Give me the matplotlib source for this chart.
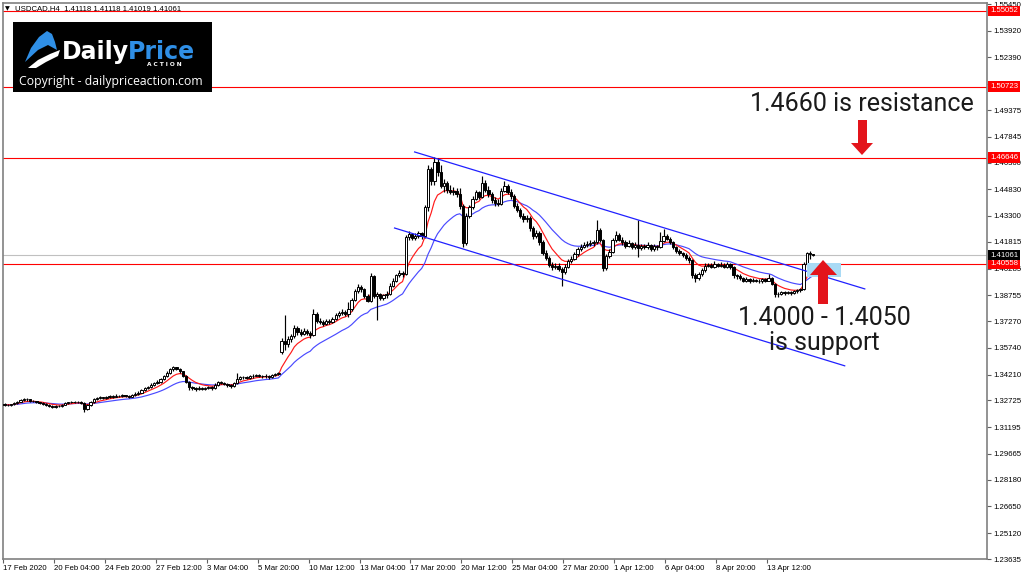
import numpy as np
import matplotlib
matplotlib.use("Agg")
import matplotlib.pyplot as plt
import matplotlib.transforms as mtransforms
from matplotlib.patches import Polygon, Rectangle

title = "USDCAD,H4  1.41118 1.41118 1.41019 1.41061"

# H4 candles, 17 Feb 2020 12:00 .. 15 Apr 2020 20:00 (one line per day)
opens = [
    1.3252, 1.3248, 1.3245,
    1.3250, 1.3258, 1.3266, 1.3275, 1.3282, 1.3278,
    1.3270, 1.3268, 1.3262, 1.3258, 1.3252, 1.3245,
    1.3242, 1.3236, 1.3240, 1.3238, 1.3248, 1.3258,
    1.3262, 1.3264, 1.3262, 1.3266, 1.3258, 1.3222,
    1.3245, 1.3262, 1.3278, 1.3285, 1.3290, 1.3286,
    1.3292, 1.3298, 1.3295, 1.3300, 1.3296, 1.3302,
    1.3298, 1.3295, 1.3305, 1.3312, 1.3318, 1.3330,
    1.3345, 1.3350, 1.3362, 1.3372, 1.3380, 1.3395,
    1.3410, 1.3432, 1.3450, 1.3462, 1.3455, 1.3440,
    1.3415, 1.3380, 1.3350, 1.3342, 1.3338, 1.3346,
    1.3340, 1.3345, 1.3350, 1.3344, 1.3362, 1.3378,
    1.3372, 1.3368, 1.3360, 1.3355, 1.3372, 1.3395,
    1.3405, 1.3408, 1.3402, 1.3410, 1.3415, 1.3418,
    1.3412, 1.3410, 1.3415, 1.3408, 1.3418, 1.3425,
    1.3548, 1.3615, 1.3598, 1.3625, 1.3640, 1.3690,
    1.3665, 1.3655, 1.3670, 1.3660, 1.3648, 1.3770,
    1.3730, 1.3725, 1.3712, 1.3730, 1.3722, 1.3740,
    1.3760, 1.3775, 1.3782, 1.3770, 1.3795, 1.3850,
    1.3900, 1.3925, 1.3910, 1.3870, 1.3845, 1.3985,
    1.3870, 1.3880, 1.3862, 1.3875, 1.3885, 1.3930,
    1.3960, 1.3990, 1.4005, 1.3995, 1.4210, 1.4225,
    1.4205, 1.4215, 1.4230, 1.4218, 1.4380, 1.4600,
    1.4530, 1.4640, 1.4580, 1.4500, 1.4520, 1.4480,
    1.4470, 1.4475, 1.4455, 1.4390, 1.4175, 1.4330,
    1.4380, 1.4430, 1.4465, 1.4440, 1.4520, 1.4480,
    1.4455, 1.4420, 1.4405, 1.4400, 1.4475, 1.4500,
    1.4470, 1.4445, 1.4390, 1.4365, 1.4330, 1.4310,
    1.4320, 1.4260, 1.4215, 1.4235, 1.4180, 1.4120,
    1.4090, 1.4050, 1.4035, 1.4045, 1.4025, 1.4010,
    1.4040, 1.4070, 1.4085, 1.4110, 1.4140, 1.4155,
    1.4165, 1.4170, 1.4175, 1.4180, 1.4250, 1.4190,
    1.4030, 1.4100, 1.4125, 1.4190, 1.4220, 1.4195,
    1.4180, 1.4160, 1.4175, 1.4150, 1.4165, 1.4145,
    1.4160, 1.4150, 1.4165, 1.4140, 1.4158, 1.4150,
    1.4185, 1.4215, 1.4200, 1.4180, 1.4150, 1.4130,
    1.4115, 1.4105, 1.4090, 1.4075, 1.3990, 1.3975,
    1.3995, 1.4020, 1.4045, 1.4050, 1.4040, 1.4055,
    1.4045, 1.4050, 1.4040, 1.4055, 1.4035, 1.3990,
    1.3985, 1.3975, 1.3960, 1.3968, 1.3958, 1.3965,
    1.3960, 1.3955, 1.3968, 1.3960, 1.3975, 1.3940,
    1.3880, 1.3885, 1.3892, 1.3888, 1.3895, 1.3890,
    1.3898, 1.3905, 1.3910, 1.4055, 1.4115, 1.41118,
]
highs = [
    1.3256, 1.3252, 1.3254,
    1.3262, 1.3270, 1.3280, 1.3288, 1.3286, 1.3281,
    1.3276, 1.3272, 1.3266, 1.3262, 1.3256, 1.3250,
    1.3246, 1.3245, 1.3244, 1.3252, 1.3262, 1.3266,
    1.3269, 1.3268, 1.3271, 1.3270, 1.3262, 1.3250,
    1.3268, 1.3284, 1.3292, 1.3296, 1.3294, 1.3298,
    1.3304, 1.3302, 1.3307, 1.3304, 1.3309, 1.3306,
    1.3302, 1.3312, 1.3319, 1.3325, 1.3338, 1.3352,
    1.3358, 1.3370, 1.3380, 1.3388, 1.3402, 1.3418,
    1.3440, 1.3458, 1.3468, 1.3466, 1.3460, 1.3444,
    1.3420, 1.3386, 1.3356, 1.3350, 1.3355, 1.3352,
    1.3352, 1.3358, 1.3354, 1.3370, 1.3385, 1.3382,
    1.3376, 1.3372, 1.3364, 1.3378, 1.3430, 1.3412,
    1.3415, 1.3413, 1.3418, 1.3425, 1.3426, 1.3423,
    1.3418, 1.3424, 1.3420, 1.3426, 1.3432, 1.3438,
    1.3630, 1.3762, 1.3640, 1.3652, 1.3705, 1.3702,
    1.3680, 1.3688, 1.3680, 1.3672, 1.3795, 1.3782,
    1.3745, 1.3732, 1.3742, 1.3738, 1.3752, 1.3772,
    1.3788, 1.3795, 1.3790, 1.3835, 1.3862, 1.3912,
    1.3940, 1.3935, 1.3918, 1.3882, 1.4005, 1.3992,
    1.3895, 1.3890, 1.3885, 1.3898, 1.3945, 1.3972,
    1.4000, 1.4018, 1.4012, 1.4222, 1.4245, 1.4235,
    1.4230, 1.4242, 1.4238, 1.4395, 1.4625, 1.4612,
    1.4667, 1.4660, 1.4625, 1.4540, 1.4530, 1.4505,
    1.4498, 1.4490, 1.4490, 1.4400, 1.4345, 1.4395,
    1.4445, 1.4480, 1.4475, 1.4560, 1.4535, 1.4500,
    1.4470, 1.4440, 1.4425, 1.4490, 1.4530, 1.4515,
    1.4485, 1.4455, 1.4405, 1.4378, 1.4345, 1.4338,
    1.4330, 1.4275, 1.4250, 1.4245, 1.4190, 1.4135,
    1.4100, 1.4068, 1.4060, 1.4058, 1.4040, 1.4055,
    1.4082, 1.4098, 1.4125, 1.4152, 1.4168, 1.4180,
    1.4185, 1.4190, 1.4195, 1.4305, 1.4262, 1.4198,
    1.4110, 1.4138, 1.4205, 1.4245, 1.4230, 1.4208,
    1.4190, 1.4192, 1.4182, 1.4178, 1.4305, 1.4172,
    1.4168, 1.4178, 1.4172, 1.4170, 1.4165, 1.4240,
    1.4255, 1.4225, 1.4210, 1.4188, 1.4160, 1.4140,
    1.4125, 1.4115, 1.4098, 1.4082, 1.4005, 1.4008,
    1.4032, 1.4058, 1.4062, 1.4058, 1.4070, 1.4062,
    1.4065, 1.4058, 1.4068, 1.4062, 1.4042, 1.4000,
    1.3995, 1.3982, 1.3978, 1.3975, 1.3972, 1.3970,
    1.3968, 1.3975, 1.3972, 1.4000, 1.3982, 1.3948,
    1.3895, 1.3900, 1.3898, 1.3902, 1.3900, 1.3905,
    1.3912, 1.3918, 1.4065, 1.4125, 1.4128, 1.41118,
]
lows = [
    1.3243, 1.3240, 1.3242,
    1.3247, 1.3254, 1.3262, 1.3270, 1.3272, 1.3265,
    1.3263, 1.3258, 1.3253, 1.3247, 1.3240, 1.3236,
    1.3230, 1.3232, 1.3233, 1.3235, 1.3244, 1.3254,
    1.3258, 1.3257, 1.3259, 1.3252, 1.3208, 1.3218,
    1.3240, 1.3258, 1.3274, 1.3280, 1.3280, 1.3282,
    1.3288, 1.3289, 1.3291, 1.3290, 1.3292, 1.3292,
    1.3288, 1.3291, 1.3300, 1.3306, 1.3313, 1.3325,
    1.3338, 1.3344, 1.3356, 1.3366, 1.3375, 1.3390,
    1.3405, 1.3426, 1.3442, 1.3446, 1.3432, 1.3408,
    1.3372, 1.3330, 1.3332, 1.3325, 1.3332, 1.3334,
    1.3335, 1.3340, 1.3330, 1.3340, 1.3356, 1.3364,
    1.3360, 1.3352, 1.3342, 1.3350, 1.3365, 1.3388,
    1.3398, 1.3395, 1.3398, 1.3404, 1.3410, 1.3405,
    1.3400, 1.3404, 1.3398, 1.3403, 1.3412, 1.3418,
    1.3540, 1.3560, 1.3580, 1.3605, 1.3630, 1.3650,
    1.3640, 1.3645, 1.3648, 1.3630, 1.3640, 1.3715,
    1.3712, 1.3700, 1.3706, 1.3710, 1.3718, 1.3735,
    1.3752, 1.3765, 1.3755, 1.3748, 1.3788, 1.3842,
    1.3890, 1.3895, 1.3860, 1.3835, 1.3838, 1.3860,
    1.3735, 1.3850, 1.3848, 1.3862, 1.3878, 1.3920,
    1.3950, 1.3978, 1.3980, 1.3990, 1.4195, 1.4190,
    1.4195, 1.4205, 1.4200, 1.4205, 1.4360, 1.4510,
    1.4505, 1.4560, 1.4490, 1.4470, 1.4460, 1.4455,
    1.4450, 1.4440, 1.4370, 1.4150, 1.4165, 1.4320,
    1.4370, 1.4420, 1.4425, 1.4435, 1.4470, 1.4440,
    1.4405, 1.4390, 1.4385, 1.4395, 1.4465, 1.4455,
    1.4430, 1.4375, 1.4350, 1.4318, 1.4295, 1.4298,
    1.4245, 1.4200, 1.4205, 1.4165, 1.4105, 1.4075,
    1.4035, 1.4022, 1.4025, 1.4012, 1.3930, 1.3995,
    1.4030, 1.4058, 1.4075, 1.4100, 1.4130, 1.4145,
    1.4150, 1.4158, 1.4160, 1.4172, 1.4180, 1.4015,
    1.4022, 1.4090, 1.4118, 1.4180, 1.4185, 1.4165,
    1.4148, 1.4150, 1.4138, 1.4140, 1.4095, 1.4135,
    1.4138, 1.4142, 1.4128, 1.4132, 1.4135, 1.4145,
    1.4178, 1.4190, 1.4170, 1.4140, 1.4120, 1.4105,
    1.4095, 1.4080, 1.4062, 1.3975, 1.3950, 1.3962,
    1.3985, 1.4010, 1.4035, 1.4030, 1.4032, 1.4035,
    1.4038, 1.4030, 1.4032, 1.4025, 1.3975, 1.3968,
    1.3962, 1.3950, 1.3952, 1.3948, 1.3950, 1.3952,
    1.3945, 1.3948, 1.3950, 1.3955, 1.3932, 1.3865,
    1.3868, 1.3875, 1.3875, 1.3880, 1.3878, 1.3882,
    1.3890, 1.3895, 1.3905, 1.4040, 1.4085, 1.41019,
]
closes = [
    1.3248, 1.3245, 1.3250,
    1.3258, 1.3266, 1.3275, 1.3282, 1.3278, 1.3270,
    1.3268, 1.3262, 1.3258, 1.3252, 1.3245, 1.3242,
    1.3236, 1.3240, 1.3238, 1.3248, 1.3258, 1.3262,
    1.3264, 1.3262, 1.3266, 1.3258, 1.3222, 1.3245,
    1.3262, 1.3278, 1.3285, 1.3290, 1.3286, 1.3292,
    1.3298, 1.3295, 1.3300, 1.3296, 1.3302, 1.3298,
    1.3295, 1.3305, 1.3312, 1.3318, 1.3330, 1.3345,
    1.3350, 1.3362, 1.3372, 1.3380, 1.3395, 1.3410,
    1.3432, 1.3450, 1.3462, 1.3455, 1.3440, 1.3415,
    1.3380, 1.3350, 1.3342, 1.3338, 1.3346, 1.3340,
    1.3345, 1.3350, 1.3344, 1.3362, 1.3378, 1.3372,
    1.3368, 1.3360, 1.3355, 1.3372, 1.3395, 1.3405,
    1.3408, 1.3402, 1.3410, 1.3415, 1.3418, 1.3412,
    1.3410, 1.3415, 1.3408, 1.3418, 1.3425, 1.3430,
    1.3615, 1.3598, 1.3625, 1.3640, 1.3690, 1.3665,
    1.3655, 1.3670, 1.3660, 1.3648, 1.3770, 1.3730,
    1.3725, 1.3712, 1.3730, 1.3722, 1.3740, 1.3760,
    1.3775, 1.3782, 1.3770, 1.3795, 1.3850, 1.3900,
    1.3925, 1.3910, 1.3870, 1.3845, 1.3985, 1.3870,
    1.3880, 1.3862, 1.3875, 1.3885, 1.3930, 1.3960,
    1.3990, 1.4005, 1.3995, 1.4210, 1.4225, 1.4205,
    1.4215, 1.4230, 1.4218, 1.4380, 1.4600, 1.4530,
    1.4640, 1.4580, 1.4500, 1.4520, 1.4480, 1.4470,
    1.4475, 1.4455, 1.4390, 1.4175, 1.4330, 1.4380,
    1.4430, 1.4465, 1.4440, 1.4520, 1.4480, 1.4455,
    1.4420, 1.4405, 1.4400, 1.4475, 1.4500, 1.4470,
    1.4445, 1.4390, 1.4365, 1.4330, 1.4310, 1.4320,
    1.4260, 1.4215, 1.4235, 1.4180, 1.4120, 1.4090,
    1.4050, 1.4035, 1.4045, 1.4025, 1.4010, 1.4040,
    1.4070, 1.4085, 1.4110, 1.4140, 1.4155, 1.4165,
    1.4170, 1.4175, 1.4180, 1.4250, 1.4190, 1.4030,
    1.4100, 1.4125, 1.4190, 1.4220, 1.4195, 1.4180,
    1.4160, 1.4175, 1.4150, 1.4165, 1.4145, 1.4160,
    1.4150, 1.4165, 1.4140, 1.4158, 1.4150, 1.4185,
    1.4215, 1.4200, 1.4180, 1.4150, 1.4130, 1.4115,
    1.4105, 1.4090, 1.4075, 1.3990, 1.3975, 1.3995,
    1.4020, 1.4045, 1.4050, 1.4040, 1.4055, 1.4045,
    1.4050, 1.4040, 1.4055, 1.4035, 1.3990, 1.3985,
    1.3975, 1.3960, 1.3968, 1.3958, 1.3965, 1.3960,
    1.3955, 1.3968, 1.3960, 1.3975, 1.3940, 1.3880,
    1.3885, 1.3892, 1.3888, 1.3895, 1.3890, 1.3898,
    1.3905, 1.3910, 1.4055, 1.4115, 1.4112, 1.41061,
]

x_labels = ["17 Feb 2020", "20 Feb 04:00", "24 Feb 20:00", "27 Feb 12:00",
            "3 Mar 04:00", "5 Mar 20:00", "10 Mar 12:00", "13 Mar 04:00",
            "17 Mar 20:00", "20 Mar 12:00", "25 Mar 04:00", "27 Mar 20:00",
            "1 Apr 12:00", "6 Apr 04:00", "8 Apr 20:00", "13 Apr 12:00"]
y_ticks = [1.55450, 1.53920, 1.52390, 1.50860, 1.49375, 1.47845, 1.46360,
           1.44830, 1.43300, 1.41815, 1.40285, 1.38755, 1.37270, 1.35740,
           1.34210, 1.32725, 1.31195, 1.29665, 1.28180, 1.26650, 1.25120,
           1.23635]
levels = [1.55052, 1.50723, 1.46646, 1.40558]
last_price = 1.41061

# trend channel (bar index, price)
upper_x, upper_y = [128.8, 270.2], [1.4697, 1.3912]
lower_x, lower_y = [122.5, 263.9], [1.4261, 1.3471]
zone_x, zone_y = [252.0, 262.6], [1.3980, 1.4060]


def ema(values, period):
    k = 2.0 / (period + 1)
    out = [values[0]]
    for v in values[1:]:
        out.append(out[-1] + k * (v - out[-1]))
    return np.array(out)


assert len(opens) == len(highs) == len(lows) == len(closes)
o = np.array(opens)
h = np.array(highs)
l = np.array(lows)
c = np.array(closes)
idx = np.arange(len(c))

W, H = 1024, 576
fig = plt.figure(figsize=(W / 100, H / 100), dpi=100)
fig.patch.set_facecolor("white")
ax = fig.add_axes([3 / W, 17 / H, 984 / W, 556 / H])
ax.set_xlim(-0.5, 308.6)
ax.set_ylim(1.23635, 1.5551)

tick_font = {"family": "Liberation Sans", "size": 5.6}

# levels and current price
for lv in levels:
    ax.axhline(lv, color="#ff0000", lw=0.8, zorder=1)
ax.axhline(last_price, color="#c0c0c0", lw=0.8, zorder=1)

# moving averages
ax.plot(idx, ema(c, 21), color="#4a4aff", lw=0.85, zorder=2)
ax.plot(idx, ema(c, 8), color="#ff1a1a", lw=0.85, zorder=2)

# candles
ax.vlines(idx, l, h, color="black", lw=0.85, zorder=3)
up = c >= o
ax.bar(idx[up], (c - o)[up], bottom=o[up], width=0.72, facecolor="white",
       edgecolor="black", linewidth=0.7, zorder=4)
ax.bar(idx[~up], (o - c)[~up], bottom=c[~up], width=0.72, facecolor="black",
       edgecolor="black", linewidth=0.7, zorder=4)

# channel + support zone
ax.plot(upper_x, upper_y, color="#2020ff", lw=0.9, zorder=5)
ax.plot(lower_x, lower_y, color="#2020ff", lw=0.9, zorder=5)
ax.add_patch(Rectangle((zone_x[0], zone_y[0]), zone_x[1] - zone_x[0],
                       zone_y[1] - zone_y[0], facecolor="#a9daf5",
                       edgecolor="none", zorder=5))

# axes styling
for s in ax.spines.values():
    s.set_color("#808080")
    s.set_linewidth(1.2)
ax.yaxis.tick_right()
ax.set_yticks(y_ticks)
# the 1.50860 label sits fully under the 1.50723 price box
ax.set_yticklabels(["" if abs(v - 1.50860) < 1e-6 else "%.5f" % v
                    for v in y_ticks], fontdict=tick_font)
ax.set_xticks([16 * k - 0.5 for k in range(len(x_labels))])
ax.set_xticklabels(x_labels, fontdict=tick_font)
for lbl in ax.get_xticklabels():
    lbl.set_ha("left")
ax.tick_params(axis="both", direction="out", length=3, width=0.8,
               color="#606060", pad=1.5)

# price boxes on the right scale
trans = mtransforms.blended_transform_factory(ax.transAxes, ax.transData)
for lv in levels:
    ax.text(1.0 + 3 / 984, lv, "%.5f" % lv, transform=trans, ha="left",
            va="center", color="white", fontdict=tick_font, clip_on=False,
            zorder=10, bbox=dict(boxstyle="square,pad=0.25", fc="#ff0000",
                                 ec="none"))
ax.text(1.0 + 3 / 984, last_price, "%.5f" % last_price, transform=trans,
        ha="left", va="center", color="white", fontdict=tick_font,
        clip_on=False, zorder=11,
        bbox=dict(boxstyle="square,pad=0.25", fc="black", ec="none"))


def px(x, y):
    return x / W, 1 - y / H


# chart title
fig.text(*px(5, 9), "\u25bc", fontsize=4.5, va="center", ha="left")
fig.text(*px(15, 9), title, fontdict=tick_font, va="center", ha="left")

# logo
fig.add_artist(Rectangle(px(13, 92), 199 / W, 70 / H, facecolor="black",
                         edgecolor="none", transform=fig.transFigure))
wing = [(25, 62), (31, 48), (39, 37), (47, 31), (52, 34), (55, 42), (57, 50),
        (48, 45), (38, 50)]
swoosh = [(28, 68), (38, 60), (50, 54), (60, 50), (58, 56), (46, 62), (36, 68)]
fig.add_artist(Polygon([px(*p) for p in wing], closed=True,
                       facecolor="#2f8fe6", edgecolor="none",
                       transform=fig.transFigure))
fig.add_artist(Polygon([px(*p) for p in swoosh], closed=True,
                       facecolor="white", edgecolor="none",
                       transform=fig.transFigure))
fig.text(*px(62, 59), "Daily", color="white", fontsize=17, fontweight="bold",
         family="DejaVu Sans", va="baseline", ha="left")
fig.text(*px(128, 59), "Price", color="#2f8fe6", fontsize=17,
         fontweight="bold", family="DejaVu Sans", va="baseline", ha="left")
fig.text(*px(164, 65), "A C T I O N", color="white", fontsize=4.2,
         fontweight="bold", va="center", ha="center")
fig.text(*px(111, 82), "Copyright - dailypriceaction.com", color="white",
         fontsize=8.8, family="Open Sans", va="center", ha="center")

# annotations
ann = {"family": "Roboto", "size": 18, "color": "#1a1a1a"}
fig.text(*px(862, 104), "1.4660 is resistance", fontdict=ann, ha="center",
         va="center")
fig.text(*px(824, 318), "1.4000 - 1.4050", fontdict=ann, ha="center",
         va="center")
fig.text(*px(824, 343), "is support", fontdict=ann, ha="center", va="center")

red = "#e3141b"
down = [(858, 120), (867, 120), (867, 143), (873, 143), (862, 155),
        (851, 143), (858, 143)]
upa = [(818, 304), (828, 304), (828, 275), (837, 275), (823, 260),
       (810, 275), (818, 275)]
for pts in (down, upa):
    fig.add_artist(Polygon([px(*p) for p in pts], closed=True,
                           facecolor=red, edgecolor="none",
                           transform=fig.transFigure, zorder=20))

fig.savefig("out.png", dpi=100)
